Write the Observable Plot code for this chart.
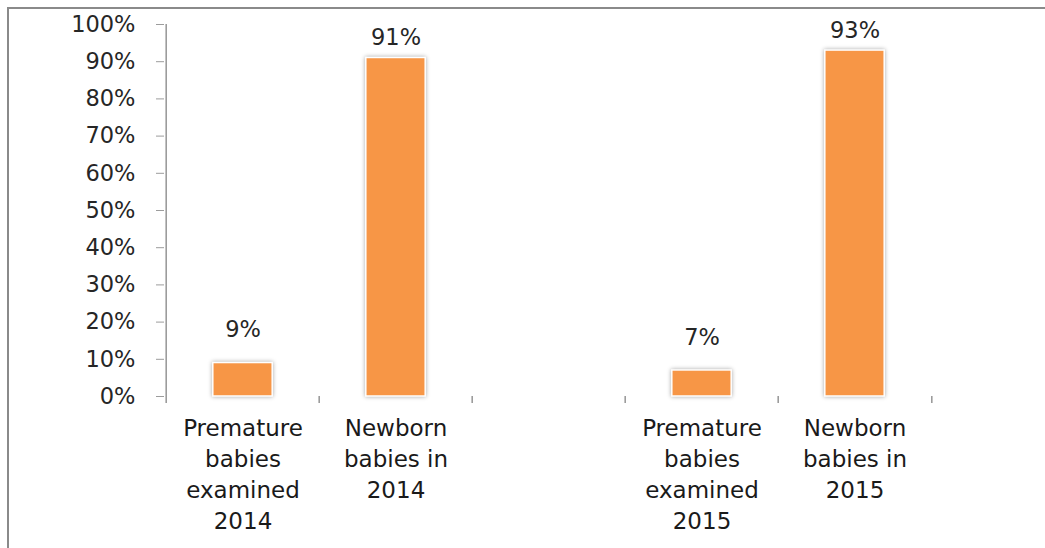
<!DOCTYPE html>
<html>
<head>
<meta charset="utf-8">
<script src="https://cdn.jsdelivr.net/npm/d3@7"></script>
<script src="https://cdn.jsdelivr.net/npm/@observablehq/plot@0.6"></script>
<style>
  html, body { margin: 0; padding: 0; background: #fff; }
  #wrap { position: relative; width: 1045px; height: 548px; overflow: hidden; }
  #wrap svg { position: absolute; left: 0; top: 0; }
  #border { position: absolute; left: 7px; top: 7px; right: 0; bottom: 0;
            border-top: 2px solid #8a8a8a; border-left: 2px solid #8a8a8a; pointer-events: none; }
</style>
</head>
<body>
<div id="wrap"><div id="border"></div></div>
<script>
// Share of babies examined, by group and year
const categories = [
  "Premature\nbabies\nexamined\n2014",
  "Newborn\nbabies in\n2014",
  "Premature\nbabies\nexamined\n2015",
  "Newborn\nbabies in\n2015"
];
const values = [9, 91, 7, 93];
const yTicks = [0, 10, 20, 30, 40, 50, 60, 70, 80, 90, 100];

// an empty slot separates the two years
const spacer = " ";
const xDomain = [categories[0], categories[1], spacer, categories[2], categories[3]];

const data = categories.map((c, i) => ({category: c, value: values[i]}));

const W = 1045, H = 548;
const mL = 164, mR = 113, mT = 24, mB = 152;
const half = (W - mL - mR) / xDomain.length / 2;
const axisGray = "#9c9c9c";
const textColor = "#262626";

const chart = Plot.plot({
  width: W,
  height: H,
  marginLeft: mL,
  marginRight: mR,
  marginTop: mT,
  marginBottom: mB,
  style: {fontFamily: "DejaVu Sans", fontSize: "22px", background: "transparent", color: textColor},
  x: {type: "band", domain: xDomain, padding: 0, axis: null},
  y: {domain: [0, 100], axis: null},
  marks: [
    Plot.axisY({
      ticks: yTicks,
      tickFormat: d => d + "%",
      tickSize: 8,
      tickPadding: 21,
      stroke: axisGray,
      fill: textColor,
      fontSize: 22.5,
      label: null
    }),
    // vertical axis line and category boundary ticks
    Plot.ruleX(xDomain, {x: d => d, dx: -half, y1: d => d === xDomain[0] ? 100 : 0, y2: -1.9,
      stroke: axisGray, strokeWidth: 1.6}),
    Plot.ruleX([xDomain[xDomain.length - 1]], {x: d => d, dx: half, y1: 0, y2: -1.9,
      stroke: axisGray, strokeWidth: 1.6}),
    Plot.barY(data, {x: "category", y: "value", fill: "#F79646", stroke: "#ffffff", strokeWidth: 1.5,
      insetLeft: half - 30, insetRight: half - 30}),
    // value labels
    Plot.text(data.filter(d => d.value >= 50), {x: "category", y: "value", text: d => d.value + "%",
      dy: -20, lineAnchor: "middle", fill: textColor, fontSize: 22.5}),
    Plot.text(data.filter(d => d.value < 50), {x: "category", y: "value", text: d => d.value + "%",
      dy: -33, lineAnchor: "middle", fill: textColor, fontSize: 22.5}),
    // category labels
    Plot.text(data, {x: "category", y: 0, text: "category", dy: 17, lineAnchor: "top",
      lineHeight: 1.35, fill: "#1a1a1a", fontSize: 23})
  ]
});

const barGroup = chart.querySelector("g[aria-label='bar']");
if (barGroup) barGroup.style.filter = "drop-shadow(0 0 2px rgba(0,0,0,0.35))";

document.getElementById("wrap").prepend(chart);
</script>
</body>
</html>
